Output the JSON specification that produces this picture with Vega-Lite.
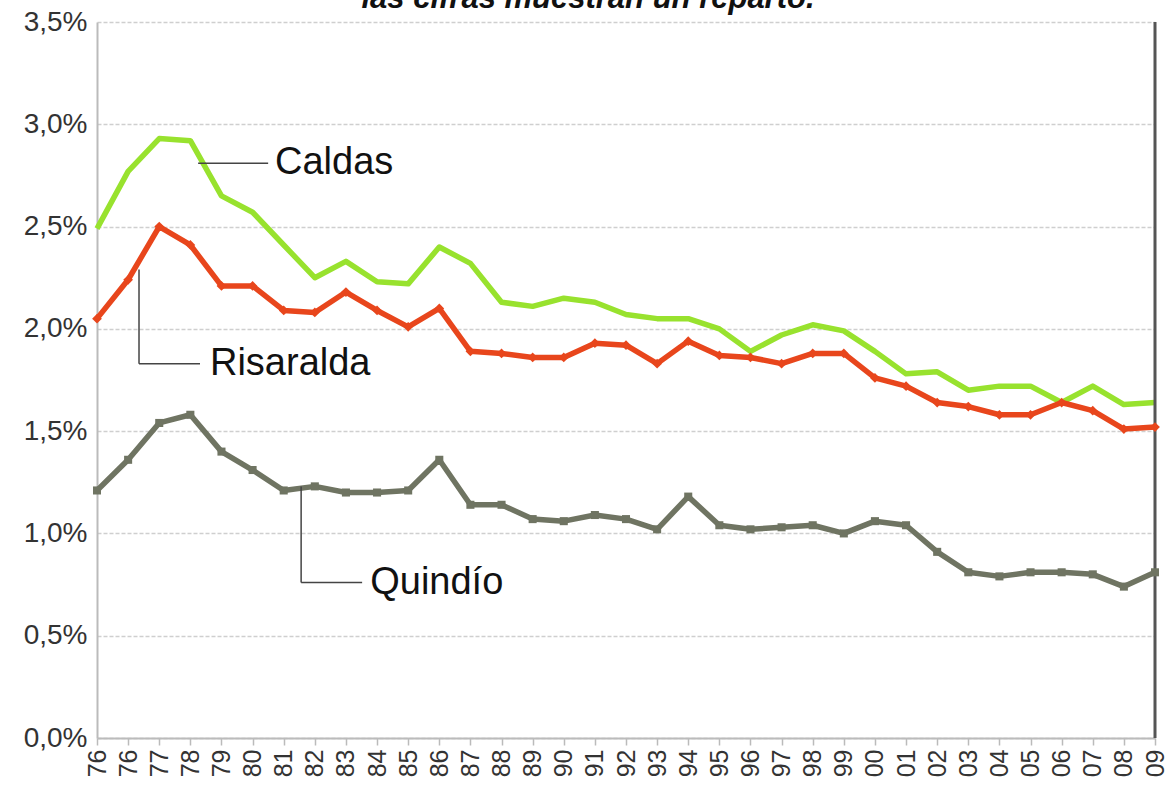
{
  "$schema": "https://vega.github.io/schema/vega-lite/v6.json",
  "autosize": {"type": "none"},
  "width": 1058,
  "height": 716,
  "padding": {"left": 97, "top": 22, "right": 18, "bottom": 51},
  "background": "white",
  "config": {"view": {"stroke": null}, "font": "Liberation Sans", "axis": {"labelOverlap": false}},
  "title": {
    "text": "las cifras muestran un reparto.",
    "fontSize": 31,
    "fontStyle": "italic",
    "fontWeight": "bold",
    "color": "#111111",
    "baseline": "alphabetic",
    "offset": 0,
    "dy": 31,
    "dx": -38,
    "anchor": "middle"
  },
  "datasets": {
    "series": [
      {"i": 0, "yr": "76", "Caldas": 2.49, "Risaralda": 2.05, "Quindío": 1.21},
      {"i": 1, "yr": "76", "Caldas": 2.77, "Risaralda": 2.24, "Quindío": 1.36},
      {"i": 2, "yr": "77", "Caldas": 2.93, "Risaralda": 2.50, "Quindío": 1.54},
      {"i": 3, "yr": "78", "Caldas": 2.92, "Risaralda": 2.41, "Quindío": 1.58},
      {"i": 4, "yr": "79", "Caldas": 2.65, "Risaralda": 2.21, "Quindío": 1.40},
      {"i": 5, "yr": "80", "Caldas": 2.57, "Risaralda": 2.21, "Quindío": 1.31},
      {"i": 6, "yr": "81", "Caldas": 2.41, "Risaralda": 2.09, "Quindío": 1.21},
      {"i": 7, "yr": "82", "Caldas": 2.25, "Risaralda": 2.08, "Quindío": 1.23},
      {"i": 8, "yr": "83", "Caldas": 2.33, "Risaralda": 2.18, "Quindío": 1.20},
      {"i": 9, "yr": "84", "Caldas": 2.23, "Risaralda": 2.09, "Quindío": 1.20},
      {"i": 10, "yr": "85", "Caldas": 2.22, "Risaralda": 2.01, "Quindío": 1.21},
      {"i": 11, "yr": "86", "Caldas": 2.40, "Risaralda": 2.10, "Quindío": 1.36},
      {"i": 12, "yr": "87", "Caldas": 2.32, "Risaralda": 1.89, "Quindío": 1.14},
      {"i": 13, "yr": "88", "Caldas": 2.13, "Risaralda": 1.88, "Quindío": 1.14},
      {"i": 14, "yr": "89", "Caldas": 2.11, "Risaralda": 1.86, "Quindío": 1.07},
      {"i": 15, "yr": "90", "Caldas": 2.15, "Risaralda": 1.86, "Quindío": 1.06},
      {"i": 16, "yr": "91", "Caldas": 2.13, "Risaralda": 1.93, "Quindío": 1.09},
      {"i": 17, "yr": "92", "Caldas": 2.07, "Risaralda": 1.92, "Quindío": 1.07},
      {"i": 18, "yr": "93", "Caldas": 2.05, "Risaralda": 1.83, "Quindío": 1.02},
      {"i": 19, "yr": "94", "Caldas": 2.05, "Risaralda": 1.94, "Quindío": 1.18},
      {"i": 20, "yr": "95", "Caldas": 2.00, "Risaralda": 1.87, "Quindío": 1.04},
      {"i": 21, "yr": "96", "Caldas": 1.89, "Risaralda": 1.86, "Quindío": 1.02},
      {"i": 22, "yr": "97", "Caldas": 1.97, "Risaralda": 1.83, "Quindío": 1.03},
      {"i": 23, "yr": "98", "Caldas": 2.02, "Risaralda": 1.88, "Quindío": 1.04},
      {"i": 24, "yr": "99", "Caldas": 1.99, "Risaralda": 1.88, "Quindío": 1.00},
      {"i": 25, "yr": "00", "Caldas": 1.89, "Risaralda": 1.76, "Quindío": 1.06},
      {"i": 26, "yr": "01", "Caldas": 1.78, "Risaralda": 1.72, "Quindío": 1.04},
      {"i": 27, "yr": "02", "Caldas": 1.79, "Risaralda": 1.64, "Quindío": 0.91},
      {"i": 28, "yr": "03", "Caldas": 1.70, "Risaralda": 1.62, "Quindío": 0.81},
      {"i": 29, "yr": "04", "Caldas": 1.72, "Risaralda": 1.58, "Quindío": 0.79},
      {"i": 30, "yr": "05", "Caldas": 1.72, "Risaralda": 1.58, "Quindío": 0.81},
      {"i": 31, "yr": "06", "Caldas": 1.64, "Risaralda": 1.64, "Quindío": 0.81},
      {"i": 32, "yr": "07", "Caldas": 1.72, "Risaralda": 1.60, "Quindío": 0.80},
      {"i": 33, "yr": "08", "Caldas": 1.63, "Risaralda": 1.51, "Quindío": 0.74},
      {"i": 34, "yr": "09", "Caldas": 1.64, "Risaralda": 1.52, "Quindío": 0.81}
    ],
    "labels": [
      {"x": 5.72, "y": 2.81, "text": "Caldas"},
      {"x": 3.63, "y": 1.83, "text": "Risaralda"},
      {"x": 8.78, "y": 0.76, "text": "Quindío"}
    ],
    "leaders": [
      {"x": 3.25, "x2": 5.5, "y": 2.81, "y2": 2.81},
      {"x": 1.35, "x2": 1.35, "y": 2.29, "y2": 1.83},
      {"x": 1.35, "x2": 3.31, "y": 1.83, "y2": 1.83},
      {"x": 6.56, "x2": 6.56, "y": 1.23, "y2": 0.76},
      {"x": 6.56, "x2": 8.52, "y": 0.76, "y2": 0.76}
    ]
  },
  "layer": [
    {
      "data": {"name": "series"},
      "transform": [{"fold": ["Caldas", "Risaralda", "Quindío"], "as": ["region", "value"]}],
      "mark": {"type": "line", "strokeWidth": 5.5, "strokeJoin": "round"},
      "encoding": {
        "x": {
          "field": "i",
          "type": "quantitative",
          "scale": {"domain": [0, 34], "nice": false, "zero": false},
          "axis": {
            "title": null,
            "values": [0,1,2,3,4,5,6,7,8,9,10,11,12,13,14,15,16,17,18,19,20,21,22,23,24,25,26,27,28,29,30,31,32,33,34],
            "tickCount": 40,
            "labelExpr": "['76','76','77','78','79','80','81','82','83','84','85','86','87','88','89','90','91','92','93','94','95','96','97','98','99','00','01','02','03','04','05','06','07','08','09'][datum.value]",
            "labelAngle": -90,
            "labelFontSize": 25,
            "labelColor": "#333333",
            "labelPadding": 4,
            "labelFlush": false,
            "labelOverlap": false,
            "labelSeparation": 0,
            "grid": false,
            "domainColor": "#bbbbbb",
            "domainWidth": 2,
            "tickColor": "#bbbbbb",
            "tickWidth": 1.5,
            "tickSize": 7
          }
        },
        "y": {
          "field": "value",
          "type": "quantitative",
          "scale": {"domain": [0, 3.5], "nice": false},
          "axis": {
            "title": null,
            "values": [0, 0.5, 1, 1.5, 2, 2.5, 3, 3.5],
            "tickCount": 10,
            "labelExpr": "replace(format(datum.value, '.1f'), '.', ',') + '%'",
            "labelFontSize": 28,
            "labelColor": "#333333",
            "labelPadding": 10,
            "labelFlush": false,
            "labelOverlap": false,
            "gridColor": "#cfcfcf",
            "gridDash": [4, 2],
            "gridWidth": 1.5,
            "domainColor": "#bbbbbb",
            "domainWidth": 2,
            "ticks": false
          }
        },
        "color": {
          "field": "region",
          "type": "nominal",
          "scale": {"domain": ["Caldas", "Risaralda", "Quindío"], "range": ["#98e22e", "#e8461c", "#6f7462"]},
          "legend": null
        }
      }
    },
    {
      "data": {"values": [{"v": 34}]},
      "mark": {"type": "rule", "stroke": "#555555", "strokeWidth": 3},
      "encoding": {
        "x": {"field": "v", "type": "quantitative"}
      }
    },
    {
      "data": {"name": "series"},
      "transform": [{"fold": ["Risaralda", "Quindío"], "as": ["region", "value"]}],
      "mark": {"type": "point", "filled": true, "opacity": 1},
      "encoding": {
        "x": {"field": "i", "type": "quantitative"},
        "y": {"field": "value", "type": "quantitative"},
        "color": {"field": "region", "type": "nominal", "legend": null},
        "shape": {
          "field": "region",
          "type": "nominal",
          "scale": {"domain": ["Risaralda", "Quindío"], "range": ["diamond", "square"]},
          "legend": null
        },
        "size": {
          "field": "region",
          "type": "nominal",
          "scale": {"domain": ["Risaralda", "Quindío"], "range": [95, 65]},
          "legend": null
        }
      }
    },
    {
      "data": {"name": "leaders"},
      "mark": {"type": "rule", "stroke": "#444444", "strokeWidth": 1.5},
      "encoding": {
        "x": {"field": "x", "type": "quantitative"},
        "x2": {"field": "x2"},
        "y": {"field": "y", "type": "quantitative"},
        "y2": {"field": "y2"}
      }
    },
    {
      "data": {"name": "labels"},
      "mark": {"type": "text", "align": "left", "baseline": "middle", "fontSize": 38, "color": "#111111"},
      "encoding": {
        "x": {"field": "x", "type": "quantitative"},
        "y": {"field": "y", "type": "quantitative"},
        "text": {"field": "text"}
      }
    }
  ]
}
